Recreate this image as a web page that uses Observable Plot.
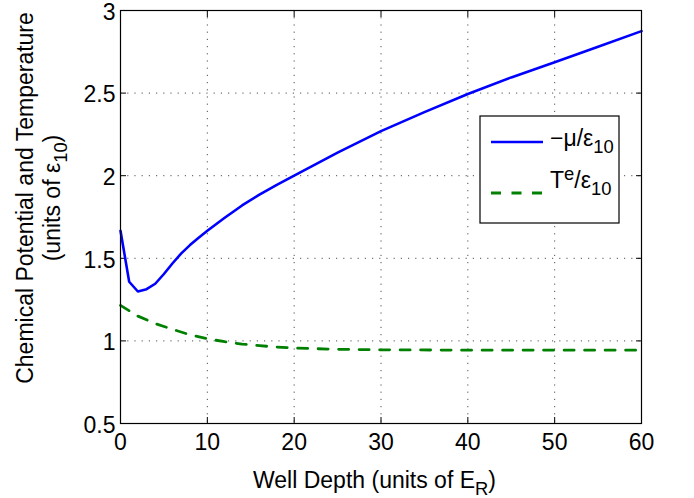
<!DOCTYPE html>
<html>
<head>
<meta charset="utf-8">
<script src="https://cdn.jsdelivr.net/npm/d3@7"></script>
<script src="https://cdn.jsdelivr.net/npm/@observablehq/plot@0.6"></script>
<style>
  html, body { margin: 0; padding: 0; background: #fff; }
  #chart svg { display: block; }
</style>
</head>
<body>
<div id="chart"></div>
<script>
// Well depth (units of E_R)
const depthMu = [0, 1, 2, 3, 4, 5, 6, 7, 8, 9, 10, 12, 14, 16, 18, 20, 25, 30, 35, 40, 45, 50, 55, 60];
// -mu / eps10
const muValues = [1.667, 1.358, 1.299, 1.313, 1.346, 1.405, 1.47, 1.53, 1.58, 1.625, 1.667, 1.745, 1.82, 1.885, 1.945, 2.0, 2.14, 2.27, 2.385, 2.495, 2.595, 2.687, 2.78, 2.875];
const depthT = [0, 2, 4, 6, 8, 10, 12, 14, 16, 18, 20, 25, 30, 40, 50, 60];
// T^e / eps10
const tValues = [1.215, 1.15, 1.105, 1.07, 1.037, 1.013, 0.995, 0.981, 0.971, 0.963, 0.957, 0.949, 0.946, 0.944, 0.944, 0.944];

const xTicks = [0, 10, 20, 30, 40, 50, 60];
const yTicks = [0.5, 1, 1.5, 2, 2.5, 3];
const yTickLabels = ["0.5", "1", "1.5", "2", "2.5", "3"];

const muData = depthMu.map((d, i) => ({x: d, y: muValues[i]}));
const tData = depthT.map((d, i) => ({x: d, y: tValues[i]}));

const FONT = "'Liberation Sans', Arial, Helvetica, sans-serif";
const FS = 23;

const plot = Plot.plot({
  width: 694,
  height: 498,
  marginLeft: 120,
  marginRight: 53,
  marginTop: 10,
  marginBottom: 75,
  style: {fontFamily: FONT, fontSize: FS + "px", color: "#000", background: "#fff"},
  x: {domain: [0, 60]},
  y: {domain: [0.5, 3]},
  marks: [
    Plot.gridX(xTicks, {stroke: "#333", strokeOpacity: 0.85, strokeDasharray: "1.2,6"}),
    Plot.gridY(yTicks, {stroke: "#333", strokeOpacity: 0.85, strokeDasharray: "1.2,6"}),
    Plot.axisX(xTicks, {anchor: "bottom", tickSize: 0, tickPadding: 10, label: null, fontSize: FS}),
    Plot.axisX(xTicks, {anchor: "bottom", tickSize: -6, tickFormat: () => "", label: null}),
    Plot.axisX(xTicks, {anchor: "top", tickSize: -6, tickFormat: () => "", label: null}),
    Plot.axisY(yTicks, {anchor: "left", tickSize: 0, tickPadding: 5, label: null, fontSize: FS, dy: 2,
      tickFormat: (d) => yTickLabels[yTicks.indexOf(d)]}),
    Plot.axisY(yTicks, {anchor: "left", tickSize: -6, tickFormat: () => "", label: null}),
    Plot.axisY(yTicks, {anchor: "right", tickSize: -6, tickFormat: () => "", label: null}),
    Plot.line(muData, {x: "x", y: "y", stroke: "#0000ff", strokeWidth: 2.6}),
    Plot.line(tData, {x: "x", y: "y", stroke: "#008000", strokeWidth: 2.8, strokeDasharray: "10,10.5"}),
    Plot.frame({stroke: "#000", strokeWidth: 1.2})
  ]
});

document.getElementById("chart").appendChild(plot);

const svg = d3.select(plot);
const sx = plot.scale("x");
const pLeft = sx.apply(0), pRight = sx.apply(60);

// Axis labels
const ann = svg.append("g").attr("font-family", FONT).attr("fill", "#000");

const xl = ann.append("text")
  .attr("x", (pLeft + pRight) / 2 - 6)
  .attr("y", 488)
  .attr("text-anchor", "middle")
  .attr("font-size", FS);
xl.append("tspan").text("Well Depth (units of E");
xl.append("tspan").attr("font-size", FS * 0.8).attr("dy", 7).text("R");
xl.append("tspan").attr("dy", -7).text(")");

const yl = ann.append("g").attr("transform", `translate(0, 198) rotate(-90)`);
yl.append("text").attr("x", 0).attr("y", 33).attr("text-anchor", "middle").attr("font-size", FS)
  .text("Chemical Potential and Temperature");
const yl2 = yl.append("text").attr("x", 0).attr("y", 60).attr("text-anchor", "middle").attr("font-size", FS);
yl2.append("tspan").text("(units of ε");
yl2.append("tspan").attr("font-size", FS * 0.8).attr("dy", 7).text("10");
yl2.append("tspan").attr("dy", -7).text(")");

// Legend
const lg = svg.append("g").attr("font-family", FONT).attr("text-anchor", "start").attr("fill", "#000");
const lx = 480, ly = 116, lw = 139, lh = 107;
lg.append("rect").attr("x", lx).attr("y", ly).attr("width", lw).attr("height", lh)
  .attr("fill", "#fff").attr("stroke", "#000").attr("stroke-width", 1.2);
lg.append("line").attr("x1", lx + 11).attr("x2", lx + 63).attr("y1", ly + 26).attr("y2", ly + 26)
  .attr("stroke", "#0000ff").attr("stroke-width", 2.6);
lg.append("line").attr("x1", lx + 11).attr("x2", lx + 63).attr("y1", ly + 77).attr("y2", ly + 77)
  .attr("stroke", "#008000").attr("stroke-width", 2.8).attr("stroke-dasharray", "10,10.5");
const t1 = lg.append("text").attr("x", lx + 70).attr("y", ly + 30).attr("font-size", FS).attr("text-anchor", "start");
t1.append("tspan").text("−μ/ε");
t1.append("tspan").attr("font-size", FS * 0.8).attr("dy", 7).text("10");
const t2 = lg.append("text").attr("x", lx + 70).attr("y", ly + 72).attr("font-size", FS).attr("text-anchor", "start");
t2.append("tspan").text("T");
t2.append("tspan").attr("font-size", FS * 0.8).attr("dy", -8).text("e");
t2.append("tspan").attr("dy", 8).text("/ε");
t2.append("tspan").attr("font-size", FS * 0.8).attr("dy", 7).text("10");
</script>
</body>
</html>
